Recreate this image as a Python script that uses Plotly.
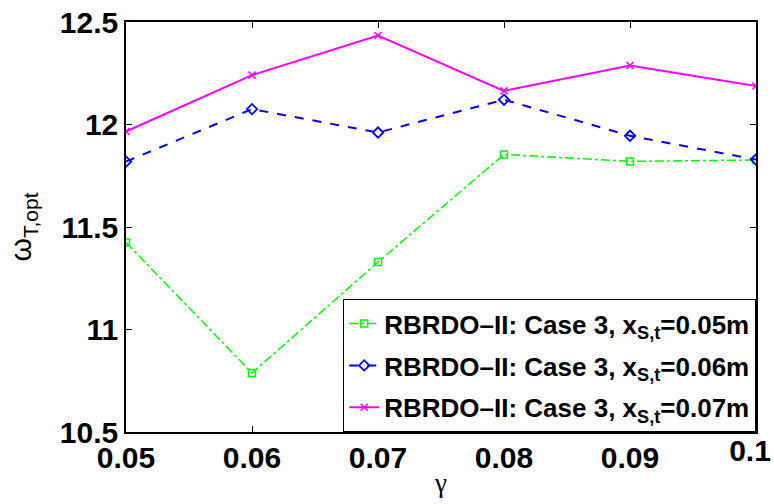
import plotly.graph_objects as go

gamma = [0.05, 0.06, 0.07, 0.08, 0.09, 0.1]
x_tick_labels = ["0.05", "0.06", "0.07", "0.08", "0.09", "0.1"]
y_ticks = [10.5, 11, 11.5, 12, 12.5]
y_tick_labels = ["10.5", "11", "11.5", "12", "12.5"]

omega_005 = [11.424, 10.788, 11.329, 11.854, 11.820, 11.827]
omega_006 = [11.819, 12.075, 11.961, 12.121, 11.945, 11.829]
omega_007 = [11.966, 12.241, 12.434, 12.164, 12.288, 12.188]

names = [
    "RBRDO–II: Case 3, x<sub>S,t</sub>=0.05m",
    "RBRDO–II: Case 3, x<sub>S,t</sub>=0.06m",
    "RBRDO–II: Case 3, x<sub>S,t</sub>=0.07m",
]

fig = go.Figure()
fig.add_trace(go.Scatter(
    x=gamma, y=omega_005, name=names[0], mode="lines+markers", legendgroup="a",
    line=dict(color="#00ff00", width=1.5, dash="dashdot"),
    marker=dict(symbol="square-open", size=7, color="#00ff00", line=dict(width=1.5)),
))
fig.add_trace(go.Scatter(
    x=gamma, y=omega_006, name=names[1], mode="lines+markers", legendgroup="b",
    line=dict(color="#0000ff", width=2, dash="dash"),
    marker=dict(symbol="diamond-open", size=8, color="#0000ff", line=dict(width=1.8)),
))
# drawn on the overlaid x axis (same range) so that axis is rendered
fig.add_trace(go.Scatter(
    x=gamma, y=omega_007, name=names[2], mode="lines+markers", legendgroup="c",
    xaxis="x2", yaxis="y",
    line=dict(color="#ff00ff", width=2),
    marker=dict(symbol="x-thin", size=7, color="#ff00ff", line=dict(width=1.5, color="#ff00ff")),
))

axis_font = dict(family="Liberation Sans, Arial, sans-serif", size=30, color="black", weight="bold")

# main x axis labels all but the last tick; the last label is drawn by an overlaid
# axis nudged left so it stays inside the figure, as in the reference
main_text = x_tick_labels[:-1] + [""]

fig.update_layout(
    width=774, height=504,
    margin=dict(l=126, r=18, t=22, b=72),
    paper_bgcolor="white", plot_bgcolor="white",
    showlegend=True,
    legend=dict(
        x=1, y=0, xanchor="right", yanchor="bottom",
        bordercolor="black", borderwidth=1.2, bgcolor="white",
        font=dict(family="Liberation Sans, Arial, sans-serif", size=26, color="black", weight="bold"),
        tracegroupgap=5, itemwidth=30,
    ),
    xaxis=dict(
        range=[0.05, 0.1], tickvals=gamma, ticktext=main_text,
        showline=True, linecolor="black", linewidth=1.5, mirror="ticks",
        ticks="inside", ticklen=6, tickcolor="black", showgrid=False, zeroline=False,
        tickfont=axis_font, automargin=False, ticklabeloverflow="allow",
        ticklabelstandoff=-2,
        title=dict(text="γ", font=dict(family="Liberation Serif, Times New Roman, serif", size=27, color="black"), standoff=0),
    ),
    xaxis2=dict(
        range=[0.05, 0.1], overlaying="x", anchor="y", side="bottom",
        tickvals=gamma[-1:], ticktext=x_tick_labels[-1:], ticklabelshift=-6,
        ticklabelstandoff=-2,
        showline=False, ticks="", showgrid=False, zeroline=False,
        tickfont=axis_font, automargin=False, ticklabeloverflow="allow",
    ),
    yaxis=dict(
        range=[10.5, 12.5], tickvals=y_ticks, ticktext=y_tick_labels,
        showline=True, linecolor="black", linewidth=1.5, mirror="ticks",
        ticks="inside", ticklen=6, tickcolor="black", showgrid=False, zeroline=False,
        tickfont=axis_font, automargin=False, ticklabeloverflow="allow",
        title=dict(text="ω<sub>T,opt</sub>", font=dict(family="Liberation Sans, Arial, sans-serif", size=30, color="black"), standoff=19),
    ),
)

fig.write_html("out.html", config={"displayModeBar": False},
               post_script="document.body.style.margin='0';")
